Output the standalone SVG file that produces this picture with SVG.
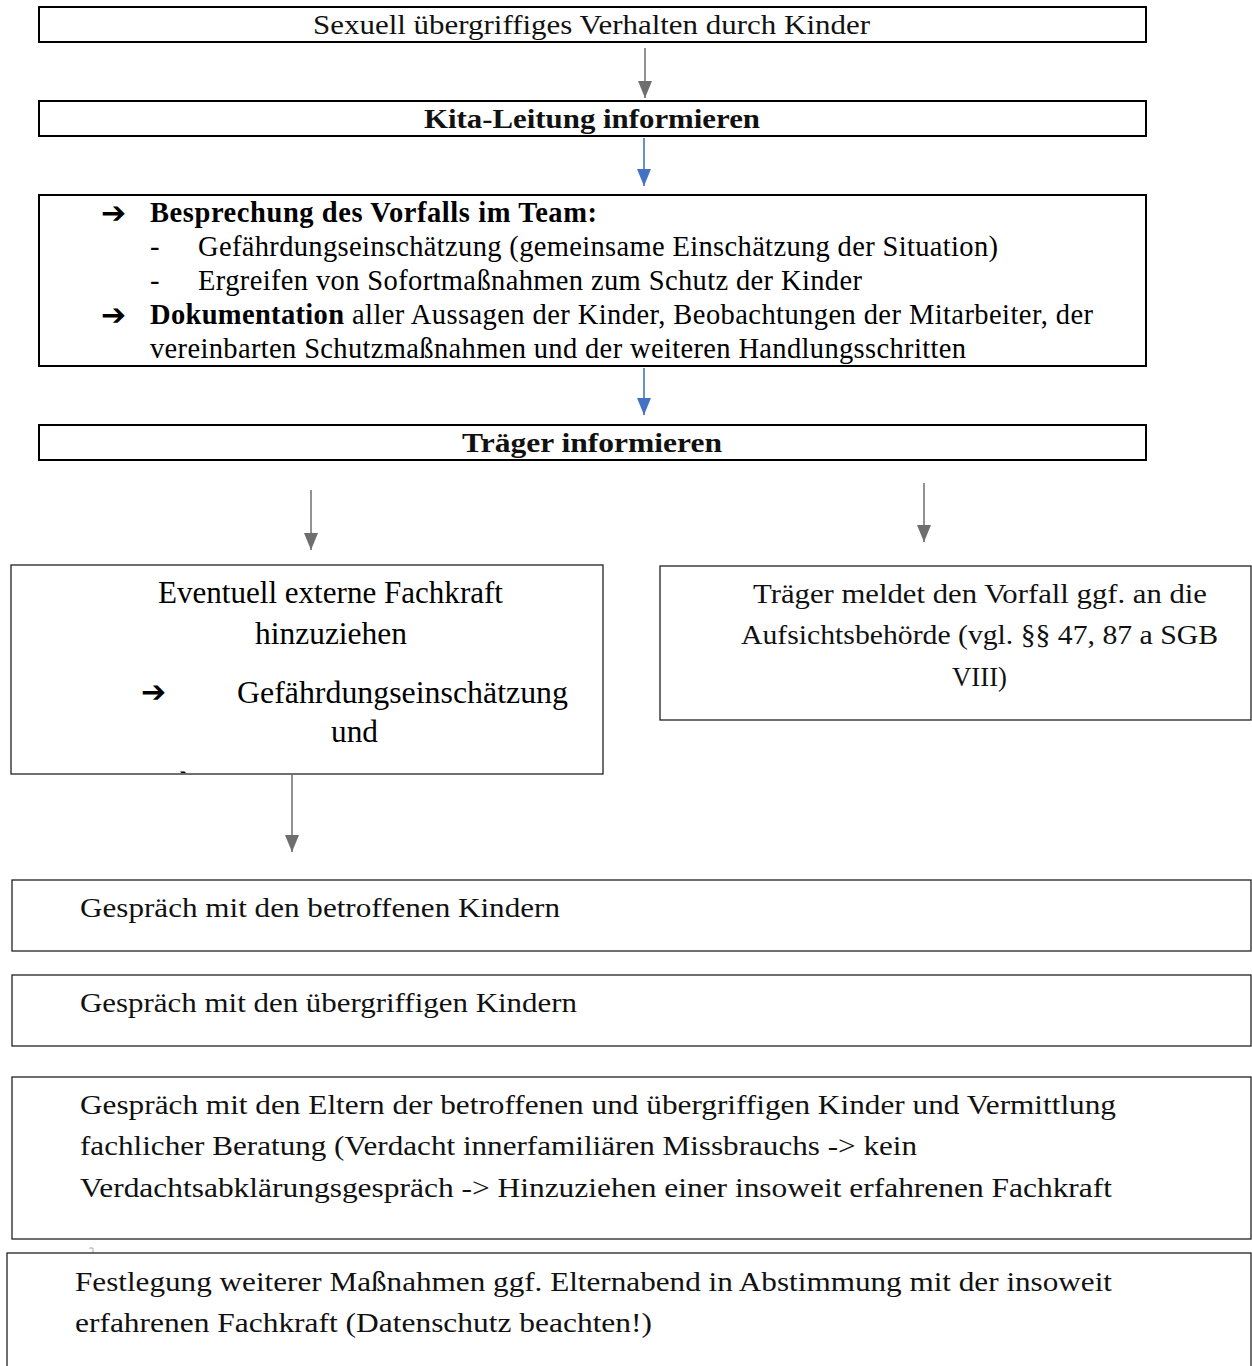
<svg xmlns="http://www.w3.org/2000/svg" width="1252" height="1366" viewBox="0 0 1252 1366">
<style>
.bx{fill:#fff;stroke:#000;stroke-width:2}
.bx2{fill:#fff;stroke:#222;stroke-width:1.3}
.t{font-family:"Liberation Serif","Times New Roman",serif;font-size:28.5px;fill:#000}
.tl{font-family:"Liberation Serif","Times New Roman",serif;font-size:30.5px;fill:#000}
.c{font-family:"Liberation Serif","Times New Roman",serif;font-size:28px;fill:#111}
.b{font-weight:bold}
.ar{font-family:"DejaVu Sans",sans-serif;font-size:30px;font-weight:bold;fill:#000}
.g{stroke:#777;stroke-width:1.6;fill:none}
.bl{stroke:#4472C4;stroke-width:1.6;fill:none}
</style>
<defs>
<marker id="hg" markerUnits="userSpaceOnUse" markerWidth="18" markerHeight="16" refX="17" refY="8" orient="auto" viewBox="0 0 18 16"><path d="M0,1 L17,8 L0,15 Z" fill="#6e6e6e"/></marker>
<marker id="hb" markerUnits="userSpaceOnUse" markerWidth="18" markerHeight="16" refX="17" refY="8" orient="auto" viewBox="0 0 18 16"><path d="M0,1 L17,8 L0,15 Z" fill="#4472C4"/></marker>
<clipPath id="clipL"><rect x="11" y="566" width="592" height="207"/></clipPath>
</defs>

<g id="connectors">
<path class="g" d="M645,48 V98" marker-end="url(#hg)"/>
<path class="bl" d="M644,138 V186" marker-end="url(#hb)"/>
<path class="bl" d="M644,368 V415" marker-end="url(#hb)"/>
<path class="g" d="M311,490 V550" marker-end="url(#hg)"/>
<path class="g" d="M924,483 V542" marker-end="url(#hg)"/>
<path class="g" d="M292,775 V852" marker-end="url(#hg)"/>
</g>

<g id="n1">
<rect class="bx" x="39" y="7" width="1107" height="35"/>
<text class="c" x="313" y="34" textLength="557" lengthAdjust="spacingAndGlyphs">Sexuell übergriffiges Verhalten durch Kinder</text>
</g>

<g id="n2">
<rect class="bx" x="39" y="101" width="1107" height="35"/>
<text class="c b" x="424" y="128" textLength="336" lengthAdjust="spacingAndGlyphs">Kita-Leitung informieren</text>
</g>

<g id="n3">
<rect class="bx" x="39" y="195" width="1107" height="171"/>
<text class="ar" x="101" y="223">➔</text>
<text class="t b" x="150" y="222" textLength="447">Besprechung des Vorfalls im Team:</text>
<text class="t" x="150" y="256">-</text>
<text class="t" x="198" y="256" textLength="800">Gefährdungseinschätzung (gemeinsame Einschätzung der Situation)</text>
<text class="t" x="150" y="290">-</text>
<text class="t" x="198" y="290" textLength="664">Ergreifen von Sofortmaßnahmen zum Schutz der Kinder</text>
<text class="ar" x="101" y="325">➔</text>
<text class="t b" x="150" y="324" textLength="194">Dokumentation</text>
<text class="t" x="352" y="324" textLength="741">aller Aussagen der Kinder, Beobachtungen der Mitarbeiter, der</text>
<text class="t" x="150" y="358" textLength="816">vereinbarten Schutzmaßnahmen und der weiteren Handlungsschritten</text>
</g>

<g id="n4">
<rect class="bx" x="39" y="425" width="1107" height="35"/>
<text class="c b" x="462" y="452" textLength="260" lengthAdjust="spacingAndGlyphs">Träger informieren</text>
</g>

<g id="n5">
<rect class="bx2" x="11" y="565" width="592" height="209"/>
<text class="tl" x="158" y="603" textLength="345" lengthAdjust="spacingAndGlyphs">Eventuell externe Fachkraft</text>
<text class="tl" x="255" y="644" textLength="152" lengthAdjust="spacingAndGlyphs">hinzuziehen</text>
<text class="ar" x="141" y="702">➔</text>
<text class="tl" x="237" y="703" textLength="331" lengthAdjust="spacingAndGlyphs">Gefährdungseinschätzung</text>
<text class="tl" x="331" y="742" textLength="47" lengthAdjust="spacingAndGlyphs">und</text>
<g clip-path="url(#clipL)"><text class="ar" x="168" y="788">➔</text></g>
</g>

<g id="n6">
<rect class="bx2" x="660" y="566" width="591" height="154"/>
<text class="c" x="753" y="603" textLength="454" lengthAdjust="spacingAndGlyphs">Träger meldet den Vorfall ggf. an die</text>
<text class="c" x="741" y="644" textLength="477" lengthAdjust="spacingAndGlyphs">Aufsichtsbehörde (vgl. §§ 47, 87 a SGB</text>
<text class="c" x="952" y="686" textLength="55" lengthAdjust="spacingAndGlyphs">VIII)</text>
</g>

<g id="n7">
<rect class="bx2" x="12" y="880" width="1239" height="71"/>
<text class="c" x="80" y="917" textLength="480" lengthAdjust="spacingAndGlyphs">Gespräch mit den betroffenen Kindern</text>
</g>

<g id="n8">
<rect class="bx2" x="12" y="975" width="1239" height="71"/>
<text class="c" x="80" y="1012" textLength="497" lengthAdjust="spacingAndGlyphs">Gespräch mit den übergriffigen Kindern</text>
</g>

<g id="n9">
<rect class="bx2" x="12" y="1077" width="1239" height="162"/>
<text class="c" x="80" y="1114" textLength="1036" lengthAdjust="spacingAndGlyphs">Gespräch mit den Eltern der betroffenen und übergriffigen Kinder und Vermittlung</text>
<text class="c" x="80" y="1155" textLength="837" lengthAdjust="spacingAndGlyphs">fachlicher Beratung (Verdacht innerfamiliären Missbrauchs -&gt; kein</text>
<text class="c" x="80" y="1197" textLength="1032" lengthAdjust="spacingAndGlyphs">Verdachtsabklärungsgespräch -&gt; Hinzuziehen einer insoweit erfahrenen Fachkraft</text>
</g>

<path d="M93,1254 V1248 H89" fill="none" stroke="#aaa" stroke-width="1"/>

<g id="n10">
<rect class="bx2" x="7" y="1253" width="1244" height="130"/>
<text class="c" x="75" y="1291" textLength="1037" lengthAdjust="spacingAndGlyphs">Festlegung weiterer Maßnahmen ggf. Elternabend in Abstimmung mit der insoweit</text>
<text class="c" x="75" y="1332" textLength="577" lengthAdjust="spacingAndGlyphs">erfahrenen Fachkraft (Datenschutz beachten!)</text>
</g>
</svg>
